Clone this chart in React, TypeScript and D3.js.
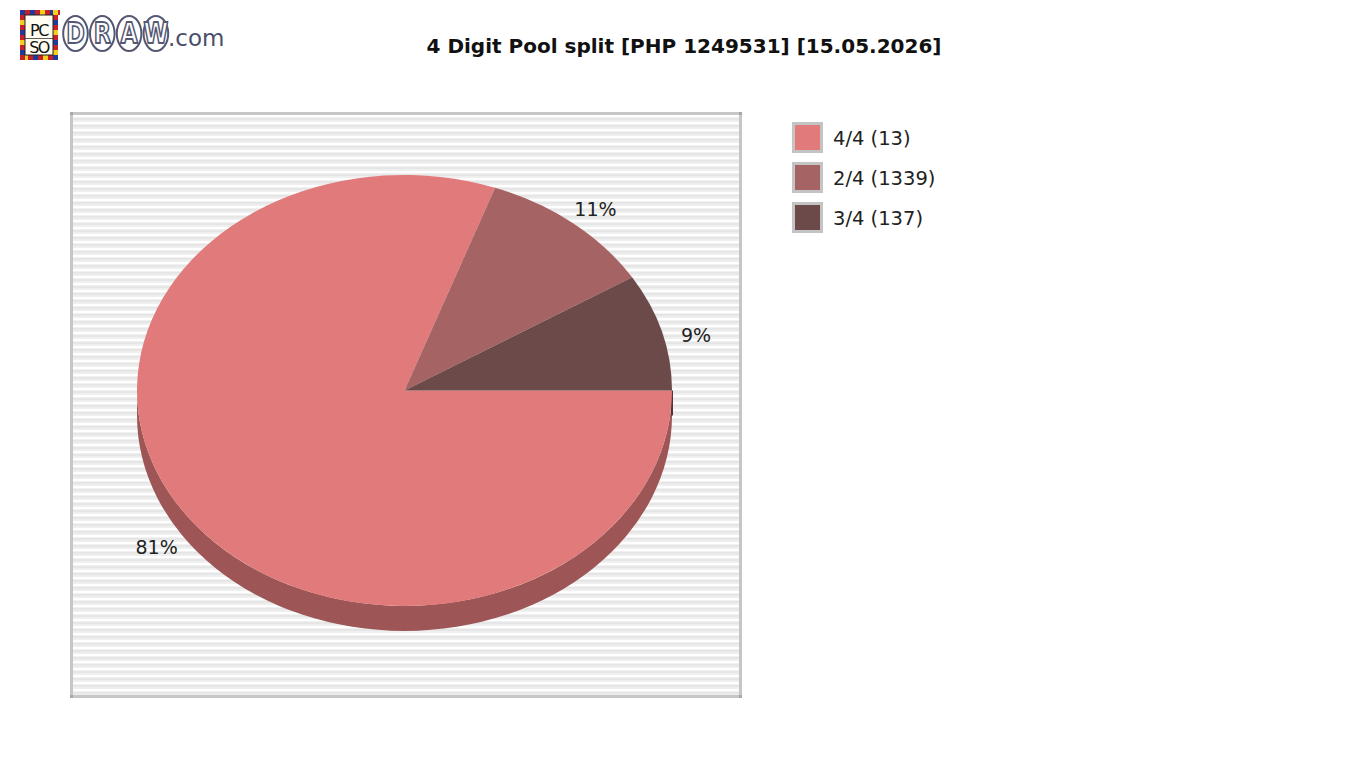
import React from 'react';
import * as d3 from 'd3';

const categories = ['4/4 (13)', '2/4 (1339)', '3/4 (137)'];
const shares = [80.5, 10.7, 8.8];
const sliceColors = ['#e17a7a', '#a66363', '#6c4a4a'];
const titleText = '4 Digit Pool split [PHP 1249531] [15.05.2026]';
const logoLetters = ['D', 'R', 'A', 'W'];

const W = 1366;
const H = 768;
const plot = { x: 70, y: 112, w: 672, h: 586 };
const pie = { cx: 404.5, cy: 390.5, rx: 267.5, ry: 215.5, depth: 25 };
const label = { cy: 403, rx: 303, ry: 250 };

function ept(a: number, dy = 0): [number, number] {
  return [pie.cx + pie.rx * Math.cos(a), pie.cy + pie.ry * Math.sin(a) + dy];
}

export default function App() {
  const arcs = d3.pie<number>().sort(null).startAngle(0).endAngle(2 * Math.PI)(shares);
  const total = d3.sum(shares);
  const fmt = (v: number) => `${Math.round((v / total) * 100 + 1e-9)}%`;

  const sides: { d: string; color: string }[] = [];
  arcs.forEach((a, i) => {
    const s = Math.max(a.startAngle, 0);
    const e = Math.min(a.endAngle, Math.PI);
    if (s < e) {
      const p0 = ept(s), p1 = ept(e), q1 = ept(e, pie.depth), q0 = ept(s, pie.depth);
      sides.push({
        d: `M${p0[0]},${p0[1]} A${pie.rx},${pie.ry} 0 0 1 ${p1[0]},${p1[1]} L${q1[0]},${q1[1]} A${pie.rx},${pie.ry} 0 0 0 ${q0[0]},${q0[1]} Z`,
        color: d3.color(sliceColors[i])!.darker(1).formatHex(),
      });
    }
  });

  const tops = arcs.map((a, i) => {
    const p0 = ept(a.startAngle), p1 = ept(a.endAngle);
    const large = a.endAngle - a.startAngle > Math.PI ? 1 : 0;
    return {
      d: `M${pie.cx},${pie.cy} L${p0[0]},${p0[1]} A${pie.rx},${pie.ry} 0 ${large} 1 ${p1[0]},${p1[1]} Z`,
      color: sliceColors[i],
    };
  });

  const lastArc = arcs[arcs.length - 1];
  const edgeTop = ept(lastArc.endAngle);
  const edgeBot = ept(lastArc.endAngle, pie.depth);

  const labels = arcs.map((a) => {
    const m = (a.startAngle + a.endAngle) / 2;
    return {
      x: pie.cx + label.rx * Math.cos(m),
      y: label.cy + label.ry * Math.sin(m),
      t: fmt(a.data),
    };
  });

  // logo checker border
  const checker: { x: number; y: number; c: string }[] = [];
  const cc = ['#f2cf1d', '#c8202a', '#1f3a9a', '#c8202a'];
  const lx = 20, ly = 10, lw = 38, lh = 50, cs = 5;
  let k = 0;
  for (let x = lx; x < lx + lw; x += cs) { checker.push({ x, y: ly, c: cc[k++ % 4] }); }
  for (let y = ly; y < ly + lh; y += cs) { checker.push({ x: lx + lw - cs, y, c: cc[k++ % 4] }); }
  for (let x = lx + lw - cs; x >= lx; x -= cs) { checker.push({ x, y: ly + lh - cs, c: cc[k++ % 4] }); }
  for (let y = ly + lh - cs; y >= ly; y -= cs) { checker.push({ x: lx, y, c: cc[k++ % 4] }); }

  return (
    <svg width={W} height={H} style={{ position: 'absolute', left: 0, top: 0, background: '#fff' }}
      fontFamily="'DejaVu Sans', sans-serif">
      <defs>
        <pattern id="stripes" patternUnits="userSpaceOnUse" x={0} y={plot.y + 3} width={8} height={7}>
          <rect width={8} height={7} fill="#ffffff" />
          <rect y={2} width={8} height={1} fill="#f1f1f1" />
          <rect y={3} width={8} height={2} fill="#e6e6e6" />
          <rect y={5} width={8} height={2} fill="#efefef" />
        </pattern>
      </defs>
      <rect width={W} height={H} fill="#fff" />

      {/* logo */}
      <g>
        <rect x={lx} y={ly} width={lw} height={lh} fill="#fff" />
        {checker.map((c, i) => (
          <rect key={i} x={c.x} y={c.y} width={cs} height={cs} fill={c.c} />
        ))}
        <rect x={lx + cs} y={ly + cs} width={lw - 2 * cs} height={lh - 2 * cs} fill="#fffdf2" stroke="#222" strokeWidth={1} />
        <text x={lx + lw / 2} y={ly + 26} textAnchor="middle" fontSize={16} fill="#111" letterSpacing={-1.5}>PC</text>
        <text x={lx + lw / 2} y={ly + 43} textAnchor="middle" fontSize={16} fill="#111" letterSpacing={-1.5}>SO</text>
        <line x1={lx + cs} x2={lx + lw - cs} y1={ly + 28.5} y2={ly + 28.5} stroke="#333" strokeWidth={0.8} />
        {logoLetters.map((L, i) => (
          <g key={L}>
            <ellipse cx={75.5 + i * 26.8} cy={33.5} rx={12.3} ry={17.5} fill="#fff" stroke="#555872" strokeWidth={2} />
            <text x={75.5 + i * 26.8} y={43.5} textAnchor="middle" fontSize={28} fontWeight="bold"
              fill="#fff" stroke="#555872" strokeWidth={1.8} transform={`translate(${75.5 + i * 26.8},0) scale(0.8,1) translate(${-(75.5 + i * 26.8)},0)`}>{L}</text>
          </g>
        ))}
        <text x={168} y={46} fontSize={23} fill="#4a4e6a">.com</text>
      </g>

      {/* title */}
      <text x={684} y={46} textAnchor="middle" dominantBaseline="central" fontSize={20} fontWeight="bold" fill="#111">
        {titleText}
      </text>

      {/* plot area */}
      <rect x={plot.x + 1.5} y={plot.y + 1.5} width={plot.w - 3} height={plot.h - 3}
        fill="url(#stripes)" stroke="#c6c6c6" strokeWidth={3} />
      <rect x={plot.x} y={plot.y} width={3} height={3} fill="#a8a8a8" />
      <rect x={plot.x + plot.w - 3} y={plot.y} width={3} height={3} fill="#a8a8a8" />
      <rect x={plot.x} y={plot.y + plot.h - 3} width={3} height={3} fill="#a8a8a8" />
      <rect x={plot.x + plot.w - 3} y={plot.y + plot.h - 3} width={3} height={3} fill="#a8a8a8" />

      {/* pie sides */}
      {sides.map((s, i) => (
        <path key={i} d={s.d} fill={s.color} />
      ))}
      <line x1={edgeTop[0]} y1={edgeTop[1]} x2={edgeBot[0]} y2={edgeBot[1]}
        stroke={d3.color(sliceColors[2])!.darker(0.8).formatHex()} strokeWidth={2} />
      {tops.map((t, i) => (
        <path key={i} d={t.d} fill={t.color} />
      ))}

      {/* labels */}
      {labels.map((l, i) => (
        <text key={i} x={l.x} y={l.y} textAnchor="middle" dominantBaseline="central" fontSize={19} fill="#222">
          {l.t}
        </text>
      ))}

      {/* legend */}
      {categories.map((c, i) => (
        <g key={c}>
          <rect x={793.5} y={123.5 + i * 40} width={28} height={28} fill={sliceColors[i]} stroke="#c4c4c4" strokeWidth={3} />
          <text x={833} y={138 + i * 40} dominantBaseline="central" fontSize={19.5} fill="#222">{c}</text>
        </g>
      ))}
    </svg>
  );
}
